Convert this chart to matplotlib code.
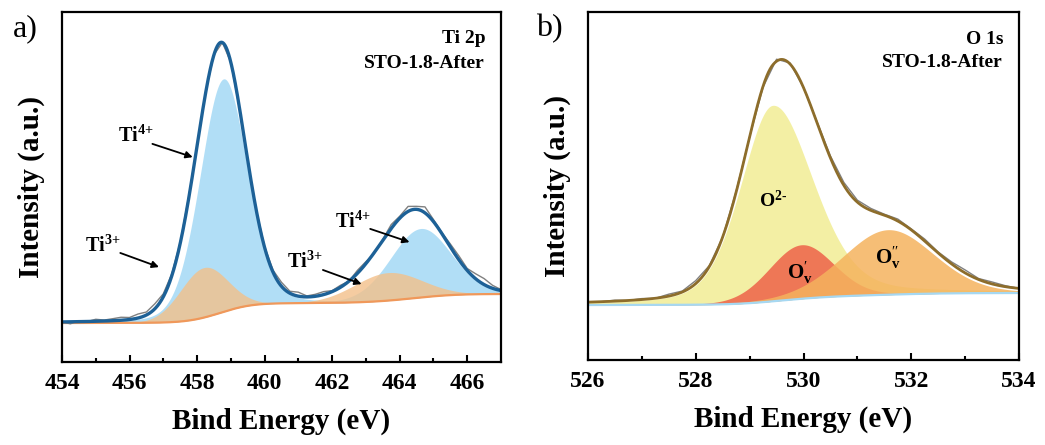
import matplotlib.pyplot as plt
import numpy as np

plt.rcParams['font.family'] = 'Liberation Serif'
plt.rcParams['mathtext.fontset'] = 'custom'
plt.rcParams['mathtext.rm'] = 'Liberation Serif'
plt.rcParams['mathtext.bf'] = 'Liberation Serif:bold'
plt.rcParams['mathtext.it'] = 'Liberation Serif:italic'

# ---- Ti 2p fit (centre eV, height, sigma left/right, lorentz fraction) ----
ti_names = ["Ti4+ 2p3/2", "Ti3+ 2p3/2", "Ti4+ 2p1/2", "Ti3+ 2p1/2"]
ti_center = [458.78, 458.2, 464.62, 463.65]
ti_height = [233, 50, 69, 28]
ti_sig_l = [0.70, 0.70, 0.90, 1.00]
ti_sig_r = [0.70, 0.70, 0.90, 1.00]
ti_lor = [0.15, 0.0, 0.1, 0.0]
ti_bg_low, ti_bg_high = 39, 68
ti_noise = [0, -2, 1, 0, 2, 1, 2, 3, 2, 4, 3, 5, 3, 2, 1, 2, 0, 1, 0, 0, 0, -1, 0, 0,
            1, 2, 4, 2, 4, 1, 2, 3, 1, 2, 0, 3, 2, -1, 1, 4, 2, 5, 3, 6, 2, 1, 3, 4,
            2, 5, 6, 3, 1]

# ---- O 1s fit ----
o_names = ["O2-", "O'v", "O''v"]
o_center = [529.43, 529.96, 531.57]
o_height = [196, 54, 65]
o_sig_l = [0.60, 0.60, 0.85]
o_sig_r = [0.75, 0.60, 0.85]
o_lor = [0.3, 0.1, 0.15]
o_bg_low, o_bg_high = 55, 67
o_noise = [0, 0, 1, 0, 1, 0, 2, 1, 3, 1, 0, 1, 0, -1, 2, 1, 0, 1, 2, 3, 2, 2, 1, 2,
           1, 2, 1, 2, 3, 1, 2, 1, 0]


def peak(x, c, h, sl, sr, eta):
    s = np.where(x < c, sl, sr)
    g = np.exp(-(x - c) ** 2 / (2 * s ** 2))
    lor = 1 / (1 + ((x - c) / (s * 1.1774)) ** 2)
    return h * ((1 - eta) * g + eta * lor)


def build(x, centers, heights, sl, sr, lors, low, high):
    comps = [peak(x, *p) for p in zip(centers, heights, sl, sr, lors)]
    total = np.sum(comps, axis=0)
    cum = np.cumsum(total)
    bg = low + (high - low) * cum / cum[-1]
    return comps, bg, bg + total


fig = plt.figure(figsize=(10.45, 4.45), dpi=100)
ax1 = fig.add_axes([0.0593, 0.1865, 0.4201, 0.7865])
ax2 = fig.add_axes([0.5627, 0.191, 0.4124, 0.782])

# ---------- panel a ----------
x = np.linspace(454, 467, 1301)
comps, bg, env = build(x, ti_center, ti_height, ti_sig_l, ti_sig_r, ti_lor,
                       ti_bg_low, ti_bg_high)
blue = '#a9dbf6'
orange = '#f3c08a'
for i in (0, 2):
    ax1.fill_between(x, bg, bg + comps[i], color=blue, lw=0, alpha=0.9)
for i in (1, 3):
    ax1.fill_between(x, bg, bg + comps[i], color=orange, lw=0, alpha=0.8)
ax1.plot(x, bg, color='#f0985a', lw=1.6)
xr = 454 + 0.25 * np.arange(len(ti_noise))
ax1.plot(xr, np.interp(xr, x, env) + np.array(ti_noise), color='#808080', lw=1.0)
ax1.plot(x, env, color='#1d6197', lw=2.4)

ax1.set_xlim(454, 467)
ax1.set_ylim(0, 350)
ax1.set_xticks(np.arange(454, 467, 2))
ax1.set_xticks(np.arange(455, 467, 2), minor=True)

lab_kw = dict(fontsize=14.5, fontweight='bold', ha='center', va='center')
arr = dict(arrowstyle='-|>', color='black', lw=1.3, mutation_scale=10)
ax1.text(456.2, 226, r'Ti$^{\mathbf{4{+}}}$', **lab_kw)
ax1.annotate('', xy=(457.95, 204), xytext=(456.6, 219), arrowprops=arr)
ax1.text(455.2, 116, r'Ti$^{\mathbf{3{+}}}$', **lab_kw)
ax1.annotate('', xy=(456.95, 94), xytext=(455.65, 110), arrowprops=arr)
ax1.text(462.6, 140, r'Ti$^{\mathbf{4{+}}}$', **lab_kw)
ax1.annotate('', xy=(464.37, 119), xytext=(463.05, 134), arrowprops=arr)
ax1.text(461.2, 100, r'Ti$^{\mathbf{3{+}}}$', **lab_kw)
ax1.annotate('', xy=(462.95, 77), xytext=(461.65, 93), arrowprops=arr)

ax1.text(0.964, 0.923, 'Ti 2p', transform=ax1.transAxes, ha='right', va='center',
         fontsize=14, fontweight='bold')
ax1.text(0.964, 0.854, 'STO-1.8-After', transform=ax1.transAxes, ha='right', va='center',
         fontsize=14, fontweight='bold')

# ---------- panel b ----------
x2 = np.linspace(526, 534, 801)
comps2, bg2, env2 = build(x2, o_center, o_height, o_sig_l, o_sig_r, o_lor,
                          o_bg_low, o_bg_high)
ax2.fill_between(x2, bg2, bg2 + comps2[0], color='#f3ef9f', lw=0, alpha=0.95)
ax2.fill_between(x2, bg2, bg2 + comps2[1], color='#ee6a4e', lw=0, alpha=0.9)
ax2.fill_between(x2, bg2, bg2 + comps2[2], color='#f5b35e', lw=0, alpha=0.85)
ax2.plot(x2, bg2, color='#a6d8f2', lw=1.6)
xr2 = 526 + 0.25 * np.arange(len(o_noise))
ax2.plot(xr2, np.interp(xr2, x2, env2) + np.array(o_noise), color='#808080', lw=1.0)
ax2.plot(x2, env2, color='#8d6d2b', lw=2.0)

ax2.set_xlim(526, 534)
ax2.set_ylim(0, 348)
ax2.set_xticks(np.arange(526, 535, 2))
ax2.set_xticks(np.arange(527, 534, 2), minor=True)

ax2.text(529.43, 160, r'O$^{\mathbf{2\text{-}}}$', fontsize=14, fontweight='bold',
         ha='center', va='center')
ax2.text(529.93, 87, r"$\mathbf{O}_{\mathbf{v}}^{\prime}$", fontsize=15,
         ha='center', va='center')
ax2.text(531.57, 102, r"$\mathbf{O}_{\mathbf{v}}^{\prime\prime}$", fontsize=15,
         ha='center', va='center')

ax2.text(0.963, 0.922, 'O 1s', transform=ax2.transAxes, ha='right', va='center',
         fontsize=14, fontweight='bold')
ax2.text(0.963, 0.856, 'STO-1.8-After', transform=ax2.transAxes, ha='right', va='center',
         fontsize=14, fontweight='bold')

for ax in (ax1, ax2):
    ax.set_yticks([])
    ax.tick_params(axis='x', which='major', direction='in', length=5, width=1.5,
                   labelsize=17, pad=8)
    ax.tick_params(axis='x', which='minor', direction='in', length=3, width=1.5)
    for lbl in ax.get_xticklabels():
        lbl.set_fontweight('bold')
    for sp in ax.spines.values():
        sp.set_linewidth(1.6)
    ax.set_xlabel('Bind Energy (eV)', fontsize=21, fontweight='bold', labelpad=10)
    ax.set_ylabel('Intensity (a.u.)', fontsize=21, fontweight='bold', labelpad=12)

fig.text(0.024, 0.935, 'a)', fontsize=23, ha='center', va='center')
fig.text(0.526, 0.935, 'b)', fontsize=23, ha='center', va='center')

fig.savefig('out.png', dpi=100)
